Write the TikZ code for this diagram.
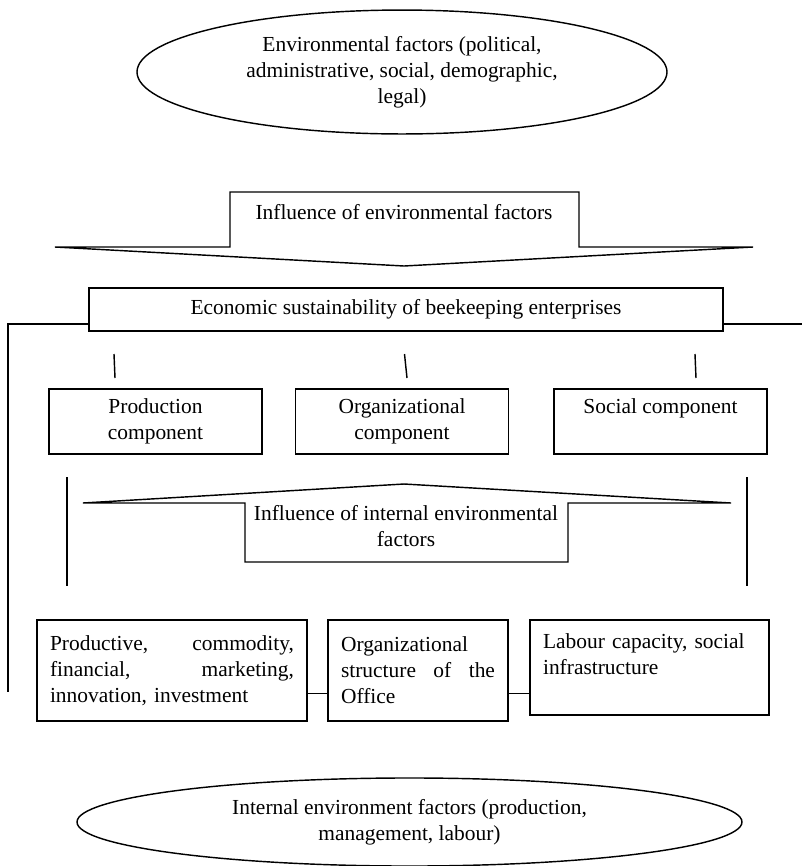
\documentclass[tikz,border=0pt]{standalone}
\usepackage{fontspec}
\setmainfont{Liberation Serif}
\usetikzlibrary{shapes.geometric}

\begin{document}
\begin{tikzpicture}[x=0.56pt,y=-0.56pt,line width=0.8pt,
	every node/.style={font=\fontsize{12}{14.6}\selectfont},
	box/.style={draw,inner sep=0pt},
	oval/.style={draw,ellipse,inner sep=0pt,align=center},
	comp/.style={box,minimum width=119.3pt,minimum height=36.4pt,align=center},
	factor/.style={box,inner xsep=7.3pt,inner ysep=0pt,align=left}]
\useasboundingbox (0,0) rectangle (803,866);
\node[oval,minimum width=296.8pt,minimum height=69.4pt] (env) at (402,72)
	{Environmental factors (political,\\ administrative, social, demographic,\\ legal)};
\draw (230,192) -- (579,192) -- (579,247) -- (753,247) -- (404,266) -- (55,247) -- (230,247) -- cycle;
\node (inflenv) at (404,212) {Influence of environmental factors};
\node[box,minimum width=355pt,minimum height=24.1pt] (econ) at (406,309.5)
	{Economic sustainability of beekeeping enterprises};
\coordinate (lt) at (8,324);
\coordinate (lb) at (8,692);
\coordinate (rt) at (802,324);
\draw (econ.west |- lt) -- (lt) -- (lb);
\draw (econ.east |- rt) -- (rt);
\foreach \i/\a/\b in {1/114/115,2/404.5/407,3/695/696}{
	\coordinate (tk\i a) at (\a,354);
	\coordinate (tk\i b) at (\b,378);
	\draw (tk\i a) -- (tk\i b);
}
\node[comp] (prodc) at (155.5,421.5) {Production\\ component};
\node[comp] (orgc) at (402,421.5) {Organizational\\ component};
\node[comp,text depth=17.2pt] (socc) at (660.5,421.5) {Social component};
\draw (245,562) -- (568,562) -- (568,503) -- (731,503) -- (404,484) -- (83,503) -- (245,503) -- cycle;
\node[align=center] (inflint) at (406,526.5) {Influence of internal environmental\\ factors};
\foreach \i/\x in {l/67,r/747}{
	\coordinate (v\i a) at (\x,477);
	\coordinate (v\i b) at (\x,586);
	\draw (v\i a) -- (v\i b);
}
\node[factor,text width=136.6pt,minimum height=56.6pt] (prodf) at (172,670.5)
	{Productive,\hfill commodity,\\ financial,\hfill marketing,\\ innovation, investment};
\node[factor,text width=86.2pt,minimum height=56.6pt] (orgf) at (418,670.5)
	{Organizational\\ structure\hfill of\hfill the\\ Office};
\node[factor,text width=119.2pt,minimum height=53.2pt,text depth=29.6pt] (socf) at (649.5,667.5)
	{Labour capacity, social\\ infrastructure};
\draw ([yshift=-12.9pt]prodf.east) -- ([yshift=-12.9pt]prodf.east -| orgf.west);
\draw ([yshift=-12.9pt]orgf.east) -- ([yshift=-12.9pt]orgf.east -| socf.west);
\node[oval,minimum width=372.4pt,minimum height=49.3pt] (intenv) at (409.5,822)
	{Internal environment factors (production,\\ management, labour)};
\end{tikzpicture}
\end{document}
